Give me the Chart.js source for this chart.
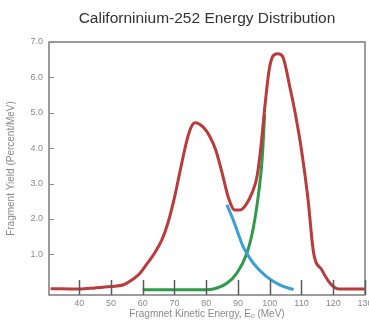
<!DOCTYPE html>
<html>
<head>
<meta charset="utf-8">
<script src="https://cdn.jsdelivr.net/npm/chart.js@4"></script>
<style>
  html, body { margin: 0; padding: 0; background: #fff; }
  #wrap { width: 369px; height: 325px; }
</style>
</head>
<body>
<div id="wrap"><canvas id="myChart" width="369" height="325"></canvas></div>
<script>
// values (MeV, percent/MeV)
const totalEnergy = [31, 40, 45, 50, 54, 57, 59, 61.5, 63.5, 66, 68, 70, 72, 74, 75.3, 76.5, 79, 81, 83, 85, 87, 89, 90.5, 92.5, 94.5, 96, 97.3, 98.5, 99.8, 101, 102.5, 104, 106.4, 108, 110, 112, 113.8, 116.4, 119, 121.6, 130];
const totalYield = [0.03, 0.02, 0.05, 0.09, 0.14, 0.3, 0.45, 0.75, 1.0, 1.4, 1.9, 2.6, 3.45, 4.25, 4.6, 4.72, 4.6, 4.35, 3.95, 3.3, 2.6, 2.25, 2.25, 2.4, 2.75, 3.2, 4.1, 5.2, 6.2, 6.6, 6.67, 6.6, 5.7, 5.0, 3.95, 2.6, 1.05, 0.56, 0.18, 0.02, 0.02];

const heavyEnergy = [86.5, 88.6, 91.7, 94.9, 99, 103.3, 107.5];
const heavyYield = [2.4, 1.95, 1.2, 0.74, 0.37, 0.13, 0.0];

const lightEnergy = [60, 70, 80, 82.3, 86.5, 89.6, 92.8, 94.9, 96.5, 97.6, 98.4];
const lightYield = [0, 0, 0, 0.02, 0.18, 0.46, 1.03, 1.78, 2.73, 3.67, 4.95];

const xTicks = [40, 50, 60, 70, 80, 90, 100, 110, 120, 130];
const yTicks = [1, 2, 3, 4, 5, 6, 7];

function toPoints(xs, ys) {
    return xs.map(function (x, i) { return { x: x, y: ys[i] }; });
}

// box round the plot plus the short inward tick marks
const frame = {
    id: 'frame',
    afterDatasetsDraw(chart) {
        let ctx = chart.ctx;
        let area = chart.chartArea;
        let xs = chart.scales.x;
        let ys = chart.scales.y;
        ctx.save();
        ctx.strokeStyle = '#7b7b7b';
        ctx.lineWidth = 1.5;
        ctx.strokeRect(area.left, area.top, area.right - area.left, area.bottom - area.top);

        ctx.strokeStyle = '#5a5a5a';
        ctx.lineWidth = 1.5;
        for (let v of xTicks) {
            let px = Math.round(xs.getPixelForValue(v)) + 0.5;
            ctx.beginPath();
            ctx.moveTo(px, area.bottom);
            ctx.lineTo(px, area.bottom - 15);
            ctx.stroke();
        }
        ctx.strokeStyle = '#8a8a8a';
        ctx.lineWidth = 1;
        for (let v of yTicks) {
            let py = Math.round(ys.getPixelForValue(v)) + 0.5;
            ctx.beginPath();
            ctx.moveTo(area.left, py);
            ctx.lineTo(area.left + 5, py);
            ctx.stroke();
        }
        ctx.restore();
    }
};

const lineStyle = { pointRadius: 0, borderWidth: 3, fill: false, cubicInterpolationMode: 'monotone' };
const font = 'Liberation Sans, Arial, sans-serif';

let ctx = document.getElementById('myChart').getContext('2d');
new Chart(ctx, {
    type: 'line',
    data: {
        datasets: [
            Object.assign({ label: 'Total', data: toPoints(totalEnergy, totalYield), borderColor: '#bb3b3b' }, lineStyle),
            Object.assign({ label: 'Heavy', data: toPoints(heavyEnergy, heavyYield), borderColor: '#3a9fd6' }, lineStyle),
            Object.assign({ label: 'Light', data: toPoints(lightEnergy, lightYield), borderColor: '#2f9a4a' }, lineStyle)
        ]
    },
    options: {
        responsive: false,
        animation: false,
        layout: { padding: { left: 0, right: 4, top: 0, bottom: 0 } },
        plugins: {
            legend: { display: false },
            tooltip: { enabled: false },
            title: {
                display: true,
                fullSize: false,
                text: 'Californinium-252 Energy Distribution',
                color: '#333',
                font: { family: font, size: 15.5, weight: 'normal', lineHeight: 1.2 },
                padding: { top: 9, bottom: 14.4 }
            }
        },
        scales: {
            x: {
                type: 'linear',
                min: 30.5,
                max: 130,
                grid: { display: false, drawTicks: false },
                border: { display: false },
                afterBuildTicks: function (scale) {
                    scale.ticks = xTicks.map(function (v) { return { value: v }; });
                },
                afterFit: function (scale) {
                    scale.height = 30;
                    scale.paddingLeft = 0;
                    scale.paddingRight = 0;
                },
                ticks: {
                    autoSkip: false,
                    maxRotation: 0,
                    padding: 3,
                    color: '#8a8a8a',
                    font: { family: font, size: 9 }
                },
                title: {
                    display: true,
                    text: 'Fragmnet Kinetic Energy, E\u2092 (MeV)',
                    color: '#8a8a8a',
                    font: { family: font, size: 10 },
                    padding: { top: 0, bottom: 5 }
                }
            },
            y: {
                min: -0.15,
                max: 7,
                grid: { display: false, drawTicks: false },
                border: { display: false },
                afterBuildTicks: function (scale) {
                    scale.ticks = yTicks.map(function (v) { return { value: v }; });
                },
                afterFit: function (scale) {
                    scale.width = 49;
                    scale.paddingTop = 0;
                    scale.paddingBottom = 0;
                },
                ticks: {
                    padding: 6,
                    color: '#8a8a8a',
                    font: { family: font, size: 9 },
                    callback: function (v) { return Number(v).toFixed(1); }
                },
                title: {
                    display: true,
                    text: 'Fragment Yield (Percent/MeV)',
                    color: '#8a8a8a',
                    font: { family: font, size: 10 },
                    padding: { top: 5, bottom: 0 }
                }
            }
        }
    },
    plugins: [frame]
});
</script>
</body>
</html>
